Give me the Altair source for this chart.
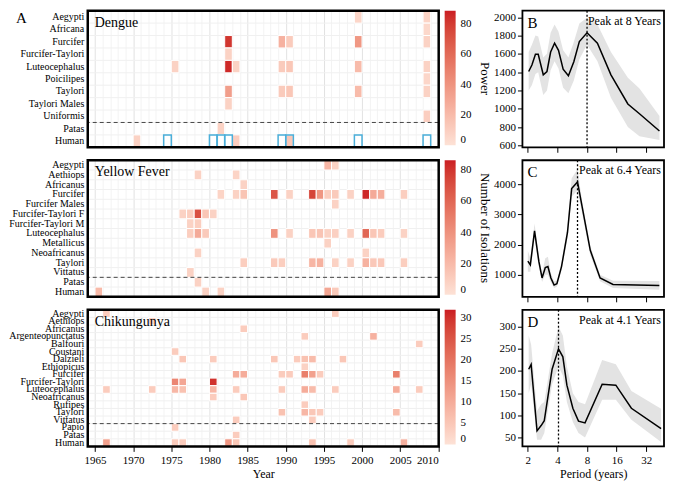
import altair as alt
import pandas as pd

FONT = "Liberation Serif"

# ---------------- heatmap data ----------------
grid_years = list(range(1965, 2011))

dengue_rows = ["Aegypti", "Africana", "Furcifer", "Furcifer-Taylori", "Luteocephalus",
               "Poicilipes", "Taylori", "Taylori Males", "Uniformis", "Patas", "Human"]
dengue_cell_row = ["Aegypti", "Aegypti", "Africana",
                   "Furcifer", "Furcifer", "Furcifer", "Furcifer", "Furcifer",
                   "Furcifer-Taylori",
                   "Luteocephalus", "Luteocephalus", "Luteocephalus", "Luteocephalus",
                   "Luteocephalus", "Luteocephalus", "Luteocephalus",
                   "Poicilipes",
                   "Taylori", "Taylori", "Taylori", "Taylori", "Taylori",
                   "Taylori Males", "Uniformis", "Patas",
                   "Human", "Human", "Human"]
dengue_cell_year = [1999, 2008, 2008,
                    1982, 1989, 1990, 1999, 2008,
                    1982,
                    1975, 1982, 1983, 1989, 1990, 1999, 2008,
                    2008,
                    1982, 1989, 1990, 1999, 2008,
                    1982, 2008, 1981,
                    1970, 1983, 1990]
dengue_cell_value = [6, 7, 5,
                     82, 25, 12, 38, 8,
                     8,
                     8, 86, 8, 12, 14, 20, 8,
                     6,
                     35, 12, 14, 20, 8,
                     8, 10, 8,
                     8, 10, 14]
dengue_box_year = [1974, 1980, 1981, 1982, 1989, 1990, 1999, 2008]

yf_rows = ["Aegypti", "Aethiops", "Africanus", "Furcifer", "Furcifer Males",
           "Furcifer-Taylori F", "Furcifer-Taylori M", "Luteocephalus", "Metallicus",
           "Neoafricanus", "Taylori", "Vittatus", "Patas", "Human"]
yf_cell_row = (["Aegypti"] * 2 + ["Aethiops"] * 2 + ["Africanus"]
               + ["Furcifer"] * 14 + ["Furcifer Males"]
               + ["Furcifer-Taylori F"] * 5 + ["Furcifer-Taylori M"] * 2
               + ["Luteocephalus"] * 14 + ["Metallicus"] + ["Neoafricanus"] * 2
               + ["Taylori"] * 11 + ["Vittatus"] + ["Patas"] + ["Human"] * 5)
yf_cell_year = ([1995, 1996] + [1978, 1983] + [1984]
                + [1981, 1983, 1984, 1988, 1990, 1993, 1994, 1995, 1996, 1998, 2000, 2001, 2002, 2005]
                + [1996]
                + [1976, 1977, 1978, 1979, 1980] + [1977, 1978]
                + [1977, 1978, 1979, 1988, 1990, 1993, 1994, 1995, 1996, 1998, 2000, 2001, 2002, 2005]
                + [1995] + [1978, 2000]
                + [1984, 1988, 1989, 1993, 1994, 1996, 1998, 2000, 2001, 2002, 2005]
                + [1977] + [1978] + [1965, 1979, 1981, 1995, 1996])
yf_cell_value = ([22, 8] + [8, 7] + [8]
                 + [7, 8, 15, 68, 8, 75, 38, 10, 12, 8, 84, 28, 26, 10]
                 + [8]
                 + [8, 10, 70, 14, 8] + [8, 10]
                 + [10, 28, 12, 40, 8, 14, 15, 8, 9, 8, 60, 14, 11, 8]
                 + [8] + [8, 8]
                 + [10, 12, 10, 22, 24, 8, 8, 24, 13, 13, 10]
                 + [8] + [8] + [20, 8, 8, 30, 12])

chik_rows = ["Aegypti", "Aethiops", "Africanus", "Argenteopunctatus", "Balfouri", "Coustani",
             "Dalzieli", "Ethiopicus", "Furcifer", "Furcifer-Taylori", "Luteocephalus",
             "Neoafricanus", "Rufipes", "Taylori", "Vittatus", "Papio", "Patas", "Human"]
chik_cell_row = (["Aegypti"] * 2 + ["Aethiops"] + ["Africanus"] + ["Argenteopunctatus"] * 2
                 + ["Balfouri"] + ["Coustani"] + ["Dalzieli"] * 7 + ["Ethiopicus"]
                 + ["Furcifer"] * 8 + ["Furcifer-Taylori"] * 3 + ["Luteocephalus"] * 12
                 + ["Neoafricanus"] * 2 + ["Rufipes"] + ["Taylori"] * 5 + ["Vittatus"] * 2
                 + ["Papio"] + ["Patas"] + ["Human"] * 8)
chik_cell_year = ([1966, 1996] + [1972] + [1984] + [1992, 2001]
                  + [2007] + [1975] + [1976, 1980, 1988, 1991, 1992, 1993, 1997] + [1992]
                  + [1983, 1984, 1989, 1990, 1992, 1993, 1994, 2004] + [1975, 1976, 1980]
                  + [1966, 1972, 1975, 1976, 1980, 1983, 1989, 1992, 1993, 1996, 2004, 2007]
                  + [1980, 1984] + [1992] + [1989, 1992, 1993, 1994, 2004] + [1983, 1993]
                  + [1975] + [1983] + [1966, 1975, 1976, 1982, 1983, 1993, 1998, 2005])
chik_cell_value = ([4, 4] + [3] + [4] + [4, 9]
                   + [4] + [4] + [5, 4, 5, 4, 6, 7, 5] + [3]
                   + [10, 10, 4, 4, 18, 12, 4, 18] + [17, 11, 30]
                   + [4, 4, 8, 6, 8, 4, 4, 10, 7, 4, 10, 4]
                   + [4, 5] + [4] + [6, 8, 5, 4, 7] + [4, 4]
                   + [4] + [4] + [12, 4, 4, 14, 5, 6, 4, 9])

# ---------------- periodogram data ----------------
b_period = [2.04, 2.2, 2.39, 2.55, 2.87, 3.13, 3.41, 3.74, 4.1, 4.57, 5.17, 5.87, 6.68, 8.0, 10.2, 14.0, 20.8, 27.3, 43.6]
b_power = [1407, 1478, 1595, 1595, 1371, 1407, 1620, 1716, 1638, 1432, 1360, 1513, 1734, 1830, 1716, 1371, 1052, 945, 757]
b_lo = [1200, 1260, 1380, 1400, 1150, 1200, 1420, 1520, 1440, 1230, 1170, 1310, 1540, 1700, 1520, 1120, 800, 700, 660]
b_hi = [1620, 1700, 1800, 1790, 1560, 1600, 1830, 1920, 1840, 1640, 1560, 1730, 1930, 1995, 1920, 1620, 1340, 1220, 920]

c_period = [2.0, 2.12, 2.34, 2.59, 2.79, 3.01, 3.2, 3.43, 3.7, 3.95, 4.4, 5.06, 5.58, 6.4, 7.12, 8.63, 10.86, 14.7, 43.5]
c_power = [1454, 1325, 2457, 1433, 893, 1238, 1270, 893, 656, 700, 1270, 2403, 3860, 4080, 3266, 1810, 893, 678, 645]
c_lo = [1100, 1100, 2200, 1250, 760, 1000, 1000, 750, 560, 600, 1150, 2200, 3600, 3800, 3050, 1650, 780, 560, 500]
c_hi = [1800, 1550, 2700, 1600, 1050, 1550, 1600, 1050, 780, 820, 1400, 2600, 4200, 4500, 3450, 1950, 1000, 800, 790]

d_period = [2.04, 2.16, 2.48, 2.73, 2.94, 3.53, 4.1, 4.54, 4.99, 5.74, 6.55, 7.63, 11.4, 15.7, 22.6, 45.3]
d_power = [204, 215, 65, 77, 88, 204, 250, 232, 168, 116, 87, 83, 170, 168, 116, 70]
d_lo = [150, 170, 45, 45, 60, 170, 210, 190, 130, 85, 60, 50, 135, 135, 90, 40]
d_hi = [280, 260, 110, 125, 130, 240, 300, 280, 210, 150, 130, 125, 225, 215, 155, 115]

HW, HH = 352, 137
LW, LH = 142, 137
COLOR_RANGE = ["#fde2d6", "#cb1d23"]


def heat_panel(name, rows, c_row, c_year, c_val, vmax, sep_row, legend_title,
               legend_values, show_x, box_years=None, letter=None):
    cells = pd.DataFrame({"row": c_row, "year": c_year, "value": c_val})
    cells["year2"] = cells["year"] + 1
    rowdf = pd.DataFrame({"row": rows[1:]})
    sepdf = pd.DataFrame({"row": [sep_row]})
    namedf = pd.DataFrame({"label": [name]})

    xscale = alt.Scale(domain=[1964.05, 2010.05], nice=False, zero=False)
    yscale = alt.Scale(domain=rows, paddingInner=0, paddingOuter=0)
    xaxis = alt.Axis(
        values=grid_years, grid=True, format="d",
        gridColor={"condition": {"test": "datum.value % 5 === 0", "value": "#e2e2e2"}, "value": "#f3f3f3"},
        gridWidth=1,
        labels=show_x, ticks=show_x, domain=False,
        labelExpr="datum.value % 5 === 0 ? datum.label : ''",
        tickOpacity={"condition": {"test": "datum.value % 5 === 0", "value": 1}, "value": 0},
        tickSize=5, tickColor="black", labelOverlap=False,
        labelFont=FONT, labelFontSize=11, labelPadding=3, labelColor="black",
        title="Year" if show_x else None, titleFont=FONT, titleFontSize=12, titlePadding=3,
        titleFontWeight="normal", titleColor="black",
    )
    yaxis = alt.Axis(title=None, ticks=False, domain=False, grid=False,
                     labelFont=FONT, labelFontSize=10, labelPadding=4, labelLimit=200,
                     labelColor="black")

    X = alt.X("year:Q", scale=xscale, axis=xaxis)
    Y = alt.Y("row:N", scale=yscale, axis=yaxis, sort=rows)

    hlines = alt.Chart(rowdf).mark_rule(color="#f0f0f0", strokeWidth=1).encode(
        y=alt.Y("row:N", scale=yscale, axis=yaxis, sort=rows, bandPosition=0))
    rects = alt.Chart(cells).mark_rect(stroke="white", strokeWidth=1).encode(
        x=X, x2="year2:Q", y=Y,
        color=alt.Color("value:Q",
                        scale=alt.Scale(domain=[0, vmax], range=COLOR_RANGE, interpolate="lab", nice=False, zero=True),
                        legend=alt.Legend(title=legend_title, titleOrient="right", titleAnchor="middle",
                                          gradientLength=HH - 2, gradientThickness=11,
                                          values=legend_values, labelFontSize=11, labelOffset=5,
                                          labelFont=FONT, titleFont=FONT, labelColor="black",
                                          titleColor="black",
                                          titleFontSize=13, titleFontWeight="normal",
                                          offset=6, padding=0, titlePadding=6, type="gradient",
                                          direction="vertical")))
    sep = alt.Chart(sepdf).mark_rule(color="#444", strokeDash=[4, 3], strokeWidth=1).encode(
        y=alt.Y("row:N", scale=yscale, axis=yaxis, sort=rows, bandPosition=0))
    txt = alt.Chart(namedf).mark_text(align="left", baseline="top", font=FONT, fontSize=14,
                                      color="black").encode(
        x=alt.value(7), y=alt.value(5), text="label:N")
    layers = [hlines, rects, sep]
    if box_years:
        boxdf = pd.DataFrame({"row": ["Human"] * len(box_years), "year": box_years})
        boxdf["year2"] = boxdf["year"] + 1
        boxes = alt.Chart(boxdf).mark_rect(filled=False, color="#4aaed9", strokeWidth=1.5).encode(
            x=X, x2="year2:Q", y=Y)
        layers.append(boxes)
    layers.append(txt)
    # panel border drawn on top of the grid lines
    frame = alt.Chart(namedf).mark_rect(filled=False, color="black", strokeWidth=2.5).encode(
        x=alt.value(0), x2=alt.value(HW), y=alt.value(0), y2=alt.value(HH))
    layers.append(frame)
    if letter:
        ldf = pd.DataFrame({"label": [letter]})
        layers.append(alt.Chart(ldf).mark_text(align="left", baseline="top", font=FONT, fontSize=15,
                                               color="black").encode(
            x=alt.value(-72), y=alt.value(0), text="label:N"))
    return alt.layer(*layers).properties(width=HW, height=HH)


def line_panel(letter, per, pw, lo, hi, ydomain, yvals, peak, peak_label, show_x):
    df = pd.DataFrame({"period": per, "power": pw, "lo": lo, "hi": hi})
    pk = pd.DataFrame({"period": [peak], "label": [peak_label]})
    lt = pd.DataFrame({"label": [letter]})
    xs = alt.Scale(type="log", base=2, domain=[1.762, 48.5], nice=False)
    ys = alt.Scale(domain=ydomain, nice=False, zero=False)
    xax = alt.Axis(values=[2, 4, 8, 16, 32], labels=show_x, ticks=True, tickSize=5, format="d",
                   domain=False, grid=False, labelFont=FONT, labelFontSize=11, labelPadding=3,
                   labelColor="black", tickColor="black",
                   title="Period (years)" if show_x else None, titleFont=FONT, titleFontSize=12,
                   titlePadding=3, titleFontWeight="normal", titleColor="black")
    yax = alt.Axis(values=yvals, tickSize=5, domain=False, grid=False, title=None, format="d",
                   labelFont=FONT, labelFontSize=11, labelPadding=2, labelColor="black",
                   tickColor="black")
    X = alt.X("period:Q", scale=xs, axis=xax)
    band = alt.Chart(df).mark_area(color="#e3e3e3").encode(
        x=X, y=alt.Y("lo:Q", scale=ys, axis=yax), y2="hi:Q")
    line = alt.Chart(df).mark_line(color="black", strokeWidth=1.5).encode(
        x=X, y=alt.Y("power:Q", scale=ys, axis=yax))
    rule = alt.Chart(pk).mark_rule(color="black", strokeDash=[2, 2], strokeWidth=1.3).encode(x=X)
    ptxt = alt.Chart(pk).mark_text(align="right", baseline="top", font=FONT, fontSize=12,
                                   color="black").encode(
        x=alt.value(LW - 3), y=alt.value(5), text="label:N")
    ltxt = alt.Chart(lt).mark_text(align="left", baseline="top", font=FONT, fontSize=15,
                                   color="black").encode(
        x=alt.value(5), y=alt.value(5), text="label:N")
    return alt.layer(band, line, rule, ptxt, ltxt).properties(
        width=LW, height=LH,
        view=alt.ViewBackground(stroke="black", strokeWidth=1.8))


h1 = heat_panel("Dengue", dengue_rows, dengue_cell_row, dengue_cell_year, dengue_cell_value,
                88.8, "Patas", "Power", [0, 20, 40, 60, 80], False, dengue_box_year, letter="A")
h2 = heat_panel("Yellow Fever", yf_rows, yf_cell_row, yf_cell_year, yf_cell_value,
                86.5, "Patas", "Number of Isolations", [0, 20, 40, 60, 80], False)
h3 = heat_panel("Chikungunya", chik_rows, chik_cell_row, chik_cell_year, chik_cell_value,
                32, "Papio", None, [0, 5, 10, 15, 20, 25, 30], True)

l1 = line_panel("B", b_period, b_power, b_lo, b_hi, [579, 2071],
                [600, 800, 1000, 1200, 1400, 1600, 1800, 2000], 8.0, "Peak at 8 Years", False)
l2 = line_panel("C", c_period, c_power, c_lo, c_hi, [266, 4800],
                [1000, 2000, 3000, 4000], 6.4, "Peak at 6.4 Years", False)
l3 = line_panel("D", d_period, d_power, d_lo, d_hi, [30, 338],
                [50, 100, 150, 200, 250, 300], 4.1, "Peak at 4.1 Years", True)

left = alt.vconcat(h1, h2, h3, spacing=9).resolve_scale(color="independent")
right = alt.vconcat(l1, l2, l3, spacing=4)

chart = alt.hconcat(left, right, spacing=2).properties(
    padding={"left": 0, "top": 0, "right": 0, "bottom": 0}
).configure_axis(
    labelFont=FONT, titleFont=FONT, labelColor="black", titleColor="black",
    titleFontWeight="normal", tickColor="black"
).configure_legend(
    labelFont=FONT, titleFont=FONT, labelColor="black", titleColor="black"
).configure_view(stroke=None)

chart.save("out.html", embed_options={"renderer": "svg", "actions": False})
